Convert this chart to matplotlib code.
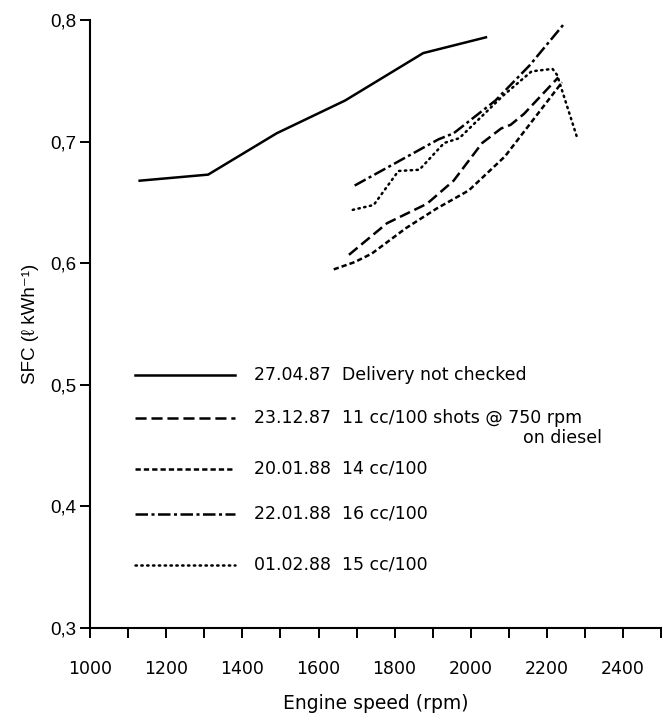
import numpy as np
import matplotlib
matplotlib.use('Agg')
import matplotlib.pyplot as plt

# 数据
rpm_270487 = [1130, 1310, 1490, 1670, 1875, 2040]
sfc_270487 = [0.668, 0.673, 0.707, 0.734, 0.773, 0.786]

rpm_231287 = [1680, 1780, 1885, 1955, 2030, 2080, 2105, 2140, 2230]
sfc_231287 = [0.607, 0.633, 0.649, 0.668, 0.699, 0.711, 0.714, 0.723, 0.753]

rpm_200188 = [1640, 1695, 1740, 1830, 1910, 1995, 2090, 2240]
sfc_200188 = [0.595, 0.601, 0.608, 0.629, 0.645, 0.660, 0.688, 0.749]

rpm_220188 = [1695, 1915, 1955, 2065, 2155, 2245]
sfc_220188 = [0.664, 0.702, 0.707, 0.734, 0.763, 0.797]

rpm_010288 = [1690, 1745, 1810, 1865, 1930, 1970, 2085, 2160, 2215, 2227, 2280]
sfc_010288 = [0.644, 0.648, 0.676, 0.677, 0.699, 0.703, 0.738, 0.758, 0.760, 0.755, 0.703]

dates = ['27.04.87', '23.12.87', '20.01.88', '22.01.88', '01.02.88']
notes = ['Delivery not checked', '11 cc/100 shots @ 750 rpm', '14 cc/100', '16 cc/100', '15 cc/100']

x_ticks = [1000, 1200, 1400, 1600, 1800, 2000, 2200, 2400]
y_ticks = [0.3, 0.4, 0.5, 0.6, 0.7, 0.8]

plt.rcParams['font.family'] = ['DejaVu Sans']
plt.rcParams['lines.scale_dashes'] = False
helv = ['Liberation Sans', 'DejaVu Sans']

# 线型
styles = [
    dict(linestyle='-'),
    dict(dashes=(8, 3.5)),
    dict(dashes=(3.8, 2.2)),
    dict(dashes=(9, 2.5, 2.2, 2.5)),
    dict(dashes=(1.0, 3.2), dash_capstyle='round'),
]
series = [
    (rpm_270487, sfc_270487),
    (rpm_231287, sfc_231287),
    (rpm_200188, sfc_200188),
    (rpm_220188, sfc_220188),
    (rpm_010288, sfc_010288),
]

fig = plt.figure(figsize=(6.63, 7.25), dpi=100)
ax = fig.add_axes([0.136, 0.134, 0.861, 0.838])

for (x, y), st in zip(series, styles):
    ax.plot(x, y, color='black', linewidth=1.8, **st)

ax.set_xlim(1000, 2500)
ax.set_ylim(0.3, 0.8)
ax.spines['top'].set_visible(False)
ax.spines['right'].set_visible(False)
ax.spines['left'].set_linewidth(1.5)
ax.spines['bottom'].set_linewidth(1.5)

ax.set_xticks(x_ticks)
ax.set_xticklabels([str(t) for t in x_ticks], fontsize=12.5)
ax.set_xticks(np.arange(1100, 2501, 200), minor=True)
ax.tick_params(axis='x', which='both', direction='out', length=7, width=1.4, pad=16)
ax.set_yticks(y_ticks)
ax.set_yticklabels([f'{t:.1f}'.replace('.', ',') for t in y_ticks], fontsize=13.5, family=helv)
ax.tick_params(axis='y', direction='out', length=7, width=1.4, pad=3)

ax.set_xlabel('Engine speed (rpm)', fontsize=13.5, labelpad=12)
ax.set_ylabel('SFC (ℓ kWh⁻¹)', fontsize=13.5, labelpad=8, family=helv)

# 手工图例
row_y = [0.508, 0.473, 0.431, 0.394, 0.352]
for yy, st, d, n in zip(row_y, styles, dates, notes):
    ax.plot([1117, 1380], [yy, yy], color='black', linewidth=1.8, **st)
    ax.text(1430, yy, d + '  ' + n, fontsize=12.5, va='center', ha='left')
ax.text(2137, 0.456, 'on diesel', fontsize=12.5, va='center', ha='left')

fig.savefig('out.png', dpi=100)
